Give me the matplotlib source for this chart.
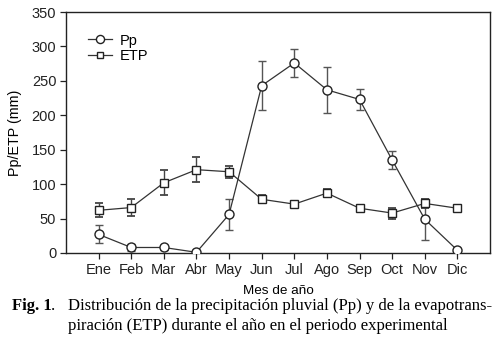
import matplotlib
matplotlib.use("Agg")
import matplotlib.pyplot as plt

# Data
months = ['Ene', 'Feb', 'Mar', 'Abr', 'May', 'Jun', 'Jul', 'Ago', 'Sep', 'Oct', 'Nov', 'Dic']
pp = [27, 8, 8, 1, 56, 243, 276, 237, 223, 135, 49, 4]
pp_err = [13, 5, 4, 1, 23, 36, 20, 33, 15, 13, 30, 2]
etp = [62, 66, 102, 121, 118, 78, 71, 87, 65, 58, 72, 65]
etp_err = [10, 12, 18, 18, 8.5, 6, 4, 6, 2, 8, 6, 3]

plt.rcParams['font.family'] = ['Liberation Sans', 'DejaVu Sans']
plt.rcParams['font.size'] = 10.5

fig = plt.figure(figsize=(5.02, 3.43), dpi=100)
ax = fig.add_axes([66 / 502, 1 - 253 / 343, 424 / 502, 241 / 343])

x = list(range(1, len(months) + 1))
lc = '#333333'

ax.errorbar(x, pp, yerr=pp_err, fmt='none', ecolor='#555555', elinewidth=1,
            capsize=3, capthick=1, zorder=2)
ax.errorbar(x, etp, yerr=etp_err, fmt='none', ecolor='#444444', elinewidth=1,
            capsize=3, capthick=1.3, zorder=2)
ax.plot(x, pp, '-o', color=lc, lw=0.9, ms=6.5, mfc='white', mec='#222222',
        mew=1, label='Pp', zorder=3)
ax.plot(x, etp, '-s', color=lc, lw=0.9, ms=5.5, mfc='white', mec='#222222',
        mew=1, label='ETP', zorder=3)

ax.set_xlim(0, 13)
ax.set_ylim(0, 350)
ax.set_xticks(x)
ax.set_xticklabels(months)
ax.set_yticks(range(0, 351, 50))
ax.tick_params(direction='out', length=4, width=0.9, colors='#222222', pad=3,
               labelsize=10.5)
for s in ax.spines.values():
    s.set_linewidth(1)
    s.set_color('#222222')

ax.set_ylabel('Pp/ETP (mm)', fontsize=10.3, labelpad=7)
ax.set_xlabel('Mes de año', fontsize=9.7, labelpad=6)

leg = ax.legend(loc='upper left', frameon=False, bbox_to_anchor=(0.02, 0.965),
                handlelength=1.7, handletextpad=0.5, labelspacing=0.1,
                fontsize=10.5, markerscale=0.9)

# Caption
serif = ['Liberation Serif', 'DejaVu Serif']
y1 = 1 - 310 / 343
y2 = 1 - 330 / 343
fig.text(12 / 502, y1, 'Fig. 1', family=serif, weight='bold', fontsize=12)
fig.text(51 / 502, y1, '.', family=serif, fontsize=12)
fig.text(68 / 502, y1,
         'Distribución de la precipitación pluvial (Pp) y de la evapotrans-',
         family=serif, fontsize=12)
fig.text(68 / 502, y2,
         'piración (ETP) durante el año en el periodo experimental',
         family=serif, fontsize=12)

fig.savefig('out.png', dpi=100)
